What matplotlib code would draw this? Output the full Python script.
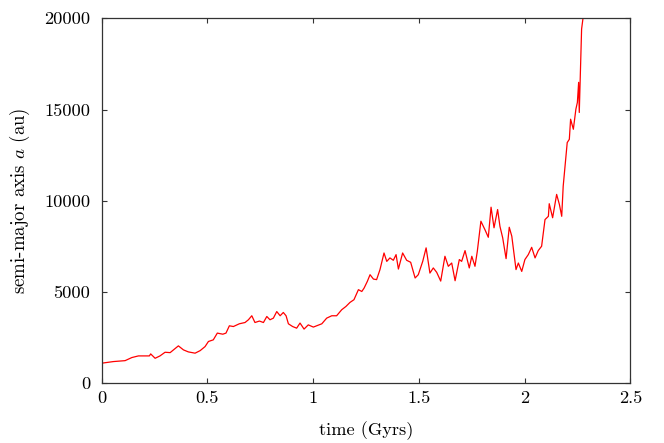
import matplotlib
matplotlib.use("Agg")
import matplotlib.pyplot as plt

# time (Gyrs) and semi-major axis (au)
t_gyr = [0.000, 0.056, 0.111, 0.143, 0.174, 0.226, 0.232, 0.253, 0.276, 0.300,
         0.324, 0.347, 0.363, 0.387, 0.410, 0.442, 0.466, 0.489, 0.505, 0.528,
         0.547, 0.573, 0.588, 0.604, 0.623, 0.651, 0.678, 0.694, 0.710, 0.725,
         0.746, 0.765, 0.781, 0.796, 0.812, 0.828, 0.844, 0.859, 0.872, 0.883,
         0.903, 0.922, 0.938, 0.957, 0.977, 1.001, 1.017, 1.041, 1.064, 1.088,
         1.111, 1.135, 1.155, 1.174, 1.193, 1.214, 1.230, 1.241, 1.256, 1.269,
         1.285, 1.300, 1.316, 1.335, 1.348, 1.363, 1.379, 1.392, 1.403, 1.423,
         1.442, 1.461, 1.482, 1.497, 1.518, 1.534, 1.552, 1.568, 1.584, 1.603,
         1.615, 1.623, 1.639, 1.655, 1.671, 1.691, 1.702, 1.718, 1.738, 1.750,
         1.765, 1.776, 1.793, 1.812, 1.828, 1.841, 1.855, 1.872, 1.883, 1.896,
         1.912, 1.927, 1.939, 1.946, 1.959, 1.970, 1.986, 2.001, 2.017, 2.033,
         2.049, 2.064, 2.080, 2.096, 2.112, 2.116, 2.132, 2.151, 2.164, 2.175,
         2.182, 2.192, 2.201, 2.211, 2.217, 2.230, 2.242, 2.249, 2.255, 2.258,
         2.265, 2.269, 2.280]
a_au = [1100, 1190, 1240, 1410, 1500, 1500, 1610, 1370, 1500, 1700,
        1680, 1900, 2050, 1830, 1720, 1650, 1790, 2010, 2290, 2380,
        2750, 2690, 2750, 3150, 3110, 3260, 3330, 3480, 3700, 3330,
        3410, 3330, 3660, 3480, 3570, 3930, 3700, 3880, 3700, 3260,
        3110, 3020, 3300, 2970, 3200, 3080, 3150, 3260, 3570, 3700,
        3700, 4030, 4210, 4430, 4580, 5130, 5030, 5220, 5580, 5950,
        5710, 5680, 6230, 7140, 6680, 6870, 6740, 7050, 6260, 7140,
        6740, 6630, 5770, 5950, 6680, 7420, 6040, 6320, 6080, 5600,
        6410, 6960, 6410, 6590, 5620, 6780, 6680, 7270, 6320, 6960,
        6410, 7230, 8880, 8420, 8000, 9650, 8520, 9520, 8600, 7970,
        6830, 8550, 8060, 7420, 6230, 6590, 6130, 6780, 7050, 7450,
        6870, 7270, 7510, 8970, 9150, 9840, 9070, 10350, 9800, 9150,
        10800, 12090, 13190, 13370, 14470, 13920, 15020, 15390, 16490, 14840,
        17770, 19410, 20400]

x_ticks = [0, 0.5, 1, 1.5, 2, 2.5]
x_labels = ["0", "0.5", "1", "1.5", "2", "2.5"]
y_ticks = [0, 5000, 10000, 15000, 20000]
y_labels = ["0", "5000", "10000", "15000", "20000"]

plt.rcParams["font.family"] = "serif"
plt.rcParams["font.serif"] = ["cmr10"]
plt.rcParams["mathtext.fontset"] = "cm"
plt.rcParams["axes.unicode_minus"] = False

fig = plt.figure(figsize=(6.64, 4.43), dpi=100)
ax = fig.add_axes([0.153, 0.1348, 0.7965, 0.8239])

ax.plot(t_gyr, a_au, color="red", lw=0.9)

ax.set_xlim(0, 2.5)
ax.set_ylim(0, 20000)
ax.set_xticks(x_ticks)
ax.set_xticklabels(x_labels)
ax.set_yticks(y_ticks)
ax.set_yticklabels(y_labels)
ax.tick_params(direction="in", length=3.6, width=0.8, top=True, right=True,
               labelsize=13.2, color="#333333")
ax.tick_params(axis="x", pad=5)
ax.tick_params(axis="y", pad=8)
for s in ax.spines.values():
    s.set_color("#333333")
    s.set_linewidth(0.9)

ax.set_xlabel("time (Gyrs)", fontsize=13.2, labelpad=11)
ax.set_ylabel("semi-major axis $a$ (au)", fontsize=13.6, labelpad=9)

fig.savefig("out.png", dpi=100)
